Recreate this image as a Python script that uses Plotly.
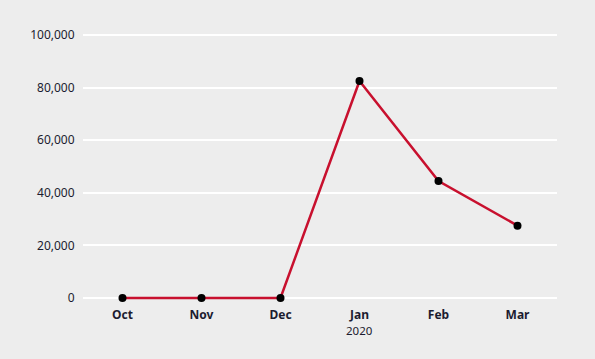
import plotly.graph_objects as go

months = ["Oct", "Nov", "Dec", "Jan", "Feb", "Mar"]
values = [0, 0, 0, 82500, 44500, 27500]
y_ticks = [0, 20000, 40000, 60000, 80000, 100000]
y_tick_labels = ["0", "20,000", "40,000", "60,000", "80,000", "100,000"]
year_label = "2020"

fig = go.Figure()
fig.add_trace(go.Scatter(
    x=months, y=values, mode="lines+markers",
    line=dict(color="#c8102e", width=2.5),
    marker=dict(color="#000000", size=8),
    cliponaxis=False, hoverinfo="skip",
))

fig.update_layout(
    width=595, height=359,
    margin=dict(l=83, r=38, t=30, b=56),
    paper_bgcolor="#ededed", plot_bgcolor="#ededed",
    showlegend=False,
    font=dict(family="Noto Sans, sans-serif", size=12, color="#1c1c30"),
    xaxis=dict(
        type="category", range=[-0.5, 5.5],
        tickvals=months, ticktext=["<b>%s</b>" % m for m in months],
        showgrid=False, zeroline=False, showline=False,
        ticks="outside", ticklen=1, tickcolor="rgba(0,0,0,0)",
        tickfont=dict(size=12, color="#1c1c30"),
    ),
    yaxis=dict(
        range=[-1901, 101901], tickvals=y_ticks, ticktext=y_tick_labels,
        showgrid=True, gridcolor="#ffffff", gridwidth=2,
        zeroline=False, showline=False,
        ticks="outside", ticklen=5, tickcolor="rgba(0,0,0,0)",
        tickfont=dict(size=12, color="#1c1c30"),
    ),
    annotations=[dict(
        x="Jan", y=y_ticks[0], xref="x", yref="y", yshift=-32, yanchor="middle",
        text=year_label, showarrow=False,
        font=dict(size=11.5, color="#1c1c30"),
    )],
)

fig.write_html("out.html", config={"displayModeBar": False},
               post_script="document.body.style.margin='0';")
